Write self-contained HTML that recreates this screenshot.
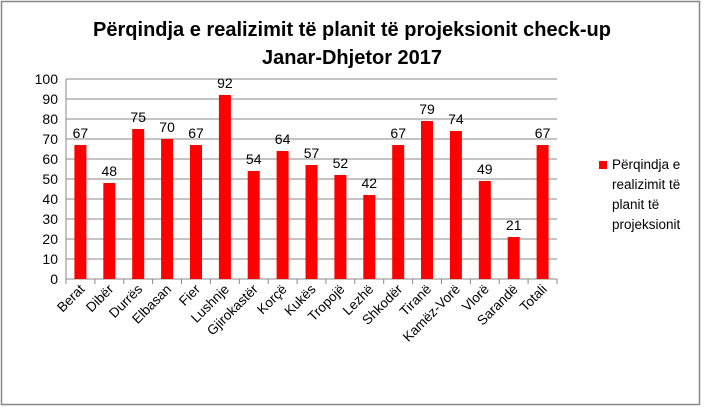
<!DOCTYPE html>
<html><head><meta charset="utf-8"><style>
body{margin:0;background:#fff}
svg{display:block;font-family:"Liberation Sans",sans-serif}
</style></head><body>
<svg width="704" height="407" xmlns="http://www.w3.org/2000/svg">
<rect x="1.5" y="1.5" width="698" height="403" fill="#fff" stroke="#888" stroke-width="1.5"/>
<text x="352" y="36" text-anchor="middle" font-size="20" font-weight="bold">Përqindja e realizimit të planit të projeksionit  check-up</text>
<text x="352" y="64" text-anchor="middle" font-size="20" font-weight="bold">Janar-Dhjetor  2017</text>
<g stroke="#888" stroke-width="1">
<line x1="66" y1="79" x2="557" y2="79"/><line x1="66" y1="99" x2="557" y2="99"/><line x1="66" y1="119" x2="557" y2="119"/><line x1="66" y1="139" x2="557" y2="139"/><line x1="66" y1="159" x2="557" y2="159"/><line x1="66" y1="179" x2="557" y2="179"/><line x1="66" y1="199" x2="557" y2="199"/><line x1="66" y1="219" x2="557" y2="219"/><line x1="66" y1="239" x2="557" y2="239"/><line x1="66" y1="259" x2="557" y2="259"/>
<line x1="66" y1="79" x2="66" y2="279"/><line x1="66" y1="279" x2="557" y2="279"/>
<line x1="66" y1="279" x2="66" y2="284"/><line x1="94.9" y1="279" x2="94.9" y2="284"/><line x1="123.8" y1="279" x2="123.8" y2="284"/><line x1="152.6" y1="279" x2="152.6" y2="284"/><line x1="181.5" y1="279" x2="181.5" y2="284"/><line x1="210.4" y1="279" x2="210.4" y2="284"/><line x1="239.3" y1="279" x2="239.3" y2="284"/><line x1="268.2" y1="279" x2="268.2" y2="284"/><line x1="297.1" y1="279" x2="297.1" y2="284"/><line x1="325.9" y1="279" x2="325.9" y2="284"/><line x1="354.8" y1="279" x2="354.8" y2="284"/><line x1="383.7" y1="279" x2="383.7" y2="284"/><line x1="412.6" y1="279" x2="412.6" y2="284"/><line x1="441.5" y1="279" x2="441.5" y2="284"/><line x1="470.4" y1="279" x2="470.4" y2="284"/><line x1="499.2" y1="279" x2="499.2" y2="284"/><line x1="528.1" y1="279" x2="528.1" y2="284"/><line x1="557" y1="279" x2="557" y2="284"/>
</g>
<g font-size="14" text-anchor="end">
<text x="58" y="84">100</text><text x="58" y="104">90</text><text x="58" y="124">80</text><text x="58" y="144">70</text><text x="58" y="164">60</text><text x="58" y="184">50</text><text x="58" y="204">40</text><text x="58" y="224">30</text><text x="58" y="244">20</text><text x="58" y="264">10</text><text x="58" y="284">0</text>
</g>
<g fill="#f00">
<rect x="74.4" y="145" width="12" height="134"/>
<rect x="103.3" y="183" width="12" height="96"/>
<rect x="132.2" y="129" width="12" height="150"/>
<rect x="161.1" y="139" width="12" height="140"/>
<rect x="190" y="145" width="12" height="134"/>
<rect x="218.9" y="95" width="12" height="184"/>
<rect x="247.7" y="171" width="12" height="108"/>
<rect x="276.6" y="151" width="12" height="128"/>
<rect x="305.5" y="165" width="12" height="114"/>
<rect x="334.4" y="175" width="12" height="104"/>
<rect x="363.3" y="195" width="12" height="84"/>
<rect x="392.2" y="145" width="12" height="134"/>
<rect x="421" y="121" width="12" height="158"/>
<rect x="449.9" y="131" width="12" height="148"/>
<rect x="478.8" y="181" width="12" height="98"/>
<rect x="507.7" y="237" width="12" height="42"/>
<rect x="536.6" y="145" width="12" height="134"/>
</g>
<g font-size="14" text-anchor="middle">
<text x="80.4" y="138">67</text><text x="109.3" y="176">48</text><text x="138.2" y="122">75</text><text x="167.1" y="132">70</text><text x="196" y="138">67</text><text x="224.9" y="88">92</text><text x="253.7" y="164">54</text><text x="282.6" y="144">64</text><text x="311.5" y="158">57</text><text x="340.4" y="168">52</text><text x="369.3" y="188">42</text><text x="398.2" y="138">67</text><text x="427" y="114">79</text><text x="455.9" y="124">74</text><text x="484.8" y="174">49</text><text x="513.7" y="230">21</text><text x="542.6" y="138">67</text>
</g>
<g font-size="13.5" text-anchor="end">
<text transform="translate(85.4,290) rotate(-45)">Berat</text>
<text transform="translate(114.3,290) rotate(-45)">Dibër</text>
<text transform="translate(143.2,290) rotate(-45)">Durrës</text>
<text transform="translate(172.1,290) rotate(-45)">Elbasan</text>
<text transform="translate(201,290) rotate(-45)">Fier</text>
<text transform="translate(229.9,290) rotate(-45)">Lushnje</text>
<text transform="translate(258.7,290) rotate(-45)">Gjirokastër</text>
<text transform="translate(287.6,290) rotate(-45)">Korçë</text>
<text transform="translate(316.5,290) rotate(-45)">Kukës</text>
<text transform="translate(345.4,290) rotate(-45)">Tropojë</text>
<text transform="translate(374.3,290) rotate(-45)">Lezhë</text>
<text transform="translate(403.2,290) rotate(-45)">Shkodër</text>
<text transform="translate(432,290) rotate(-45)">Tiranë</text>
<text transform="translate(460.9,290) rotate(-45)">Kamëz-Vorë</text>
<text transform="translate(489.8,290) rotate(-45)">Vlorë</text>
<text transform="translate(518.7,290) rotate(-45)">Sarandë</text>
<text transform="translate(547.6,290) rotate(-45)">Totali</text>
</g>
<rect x="599" y="161" width="8" height="8" fill="#f00"/>
<g font-size="13.5"><text x="612" y="169">Përqindja e</text><text x="612" y="189">realizimit të</text><text x="612" y="209">planit të</text><text x="612" y="229">projeksionit</text></g>
</svg>
</body></html>
